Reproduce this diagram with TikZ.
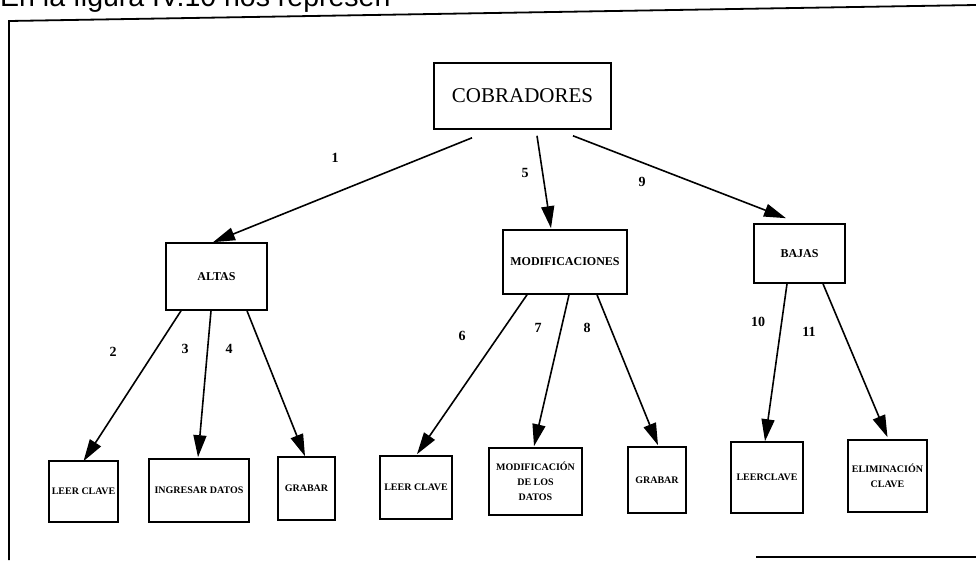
\documentclass[tikz,border=0pt]{standalone}
\usepackage{fontspec}
\setmainfont{Liberation Serif}
\newfontfamily\arialfont{Liberation Sans}
\usetikzlibrary{arrows.meta,calc}
\tikzset{
  box/.style={draw, line width=1.6pt, inner sep=0pt, align=center,
    font=\bfseries\fontsize{10}{15}\selectfont},
  topbox/.style={box, font=\fontsize{21}{21}\selectfont},
  midbox/.style={box, font=\bfseries\fontsize{12}{12}\selectfont},
  conn/.style={line width=1.6pt, -{Triangle[length=22pt,width=13pt]}},
  num/.style={inner sep=0pt, font=\bfseries\fontsize{14}{14}\selectfont},
  frame/.style={line width=1.8pt}
}
\begin{document}
\begin{tikzpicture}[x=1pt,y=-1pt]
\useasboundingbox (0,0) rectangle (976,560);
\clip (0,0) rectangle (976,560);
\fill[white] (0,0) rectangle (976,560);
% clipped heading (only its lower part shows)
\node[anchor=base west, inner sep=0pt, font=\arialfont\fontsize{28.5}{28.5}\selectfont] (head) at (0,6) {En la figura IV.10 nos represen};
% frame
\coordinate (ftl) at (9,21);
\coordinate (ftr) at (976,5);
\coordinate (fbl) at (9,560);
\coordinate (fbs) at (756,557);
\coordinate (fbr) at (976,557);
\draw[frame] (ftr) -- (ftl) -- (fbl);
\draw[frame] (fbs) -- (fbr);
% nodes
\node[topbox, minimum width=177pt, minimum height=66pt] (cob) at (522.5,96) {COBRADORES};
\node[midbox, minimum width=101pt, minimum height=67pt] (altas) at (216.5,276.5) {ALTAS};
\node[midbox, minimum width=124pt, minimum height=64pt] (modif) at (565,262) {MODIFICACIONES};
\node[midbox, minimum width=91pt, minimum height=59pt] (bajas) at (799.5,253.5) {BAJAS};
\node[box, minimum width=69pt, minimum height=61pt] (b1) at (83.5,491.5) {LEER CLAVE};
\node[box, minimum width=100pt, minimum height=63pt] (b2) at (199,490.5) {INGRESAR DATOS};
\node[box, minimum width=57pt, minimum height=63pt] (b3) at (306.5,488.5) {GRABAR};
\node[box, minimum width=72pt, minimum height=63pt] (b4) at (416,487.5) {LEER CLAVE};
\node[box, minimum width=93pt, minimum height=67pt] (b5) at (535.5,481.5) {MODIFICACIÓN\\DE LOS\\DATOS};
\node[box, minimum width=58pt, minimum height=66pt] (b6) at (657,480) {GRABAR};
\node[box, minimum width=72pt, minimum height=71pt] (b7) at (767,477.5) {LEERCLAVE};
\node[box, minimum width=79pt, minimum height=72pt] (b8) at (887.5,476) {ELIMINACIÓN\\CLAVE};
% connectors
\draw[conn] ($(cob.south)+(-50.5,8)$) -- ($(altas.north)+(-3.5,0)$);
\draw[conn] ($(cob.south)+(14.5,6)$) -- ($(modif.north)+(-14,-1)$);
\draw[conn] ($(cob.south)+(50.5,6)$) -- ($(bajas.north)+(-13.5,-5)$);
\draw[conn] ($(altas.south)+(-35.5,0)$) -- ($(b1.north)+(0,1)$);
\draw[conn] ($(altas.south)+(-5.5,0)$) -- ($(b2.north)+(-1,-1)$);
\draw[conn] ($(altas.south)+(30.5,0)$) -- ($(b3.north)+(-1.5,0)$);
\draw[conn] ($(modif.south)+(-38,0)$) -- ($(b4.north)+(1,-1)$);
\draw[conn] ($(modif.south)+(4,0)$) -- ($(b5.north)+(-1.5,-1)$);
\draw[conn] ($(modif.south)+(32,0)$) -- ($(b6.north)+(1,-1)$);
\draw[conn] ($(bajas.south)+(-12.5,0)$) -- ($(b7.north)+(-2,0)$);
\draw[conn] ($(bajas.south)+(23.5,0)$) -- ($(b8.north)+(0,-2)$);
% labels
\node[num] (n1) at (335,158) {1};
\node[num] (n5) at (525,173) {5};
\node[num] (n9) at (642,182) {9};
\node[num] (n2) at (113,352) {2};
\node[num] (n3) at (185,349) {3};
\node[num] (n4) at (229,349) {4};
\node[num] (n6) at (462,336) {6};
\node[num] (n7) at (538,328) {7};
\node[num] (n8) at (587,328) {8};
\node[num] (n10) at (758,322) {10};
\node[num] (n11) at (809,332) {11};
\end{tikzpicture}
\end{document}
